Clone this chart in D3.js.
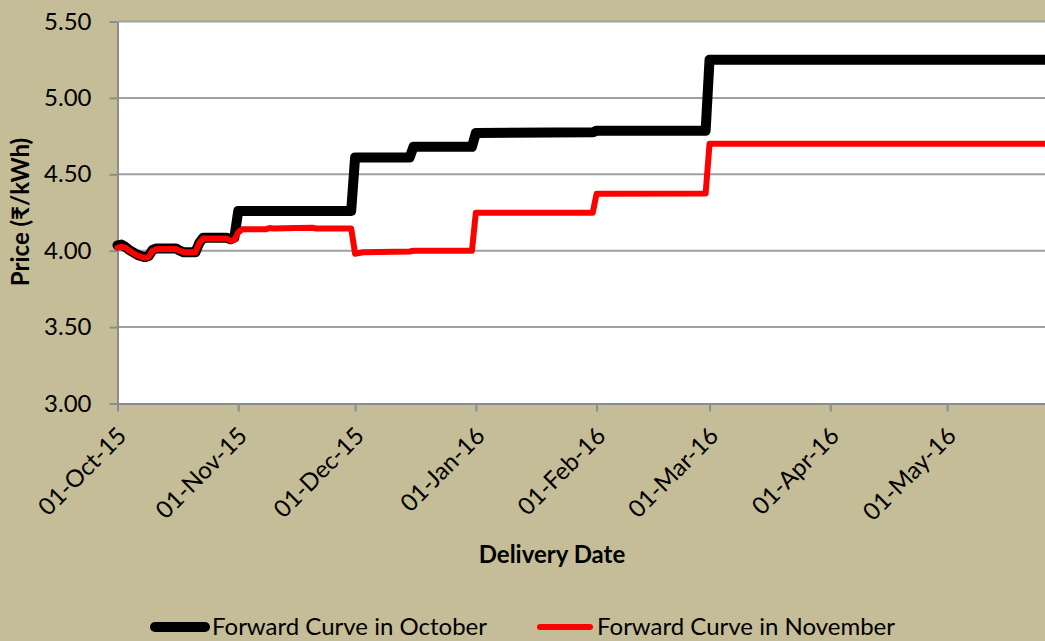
<!DOCTYPE html>
<html>
<head>
<meta charset="utf-8">
<script src="https://cdn.jsdelivr.net/npm/d3@7"></script>
<style>
  html, body { margin: 0; padding: 0; background: #C4BD97; }
  svg { display: block; font-family: Lato, "Open Sans", sans-serif; }
</style>
</head>
<body>
<svg id="chart" width="1045" height="641"></svg>
<script>
// Forward curve in October (black)
const octDates = [
  "2015-10-01", "2015-10-02", "2015-10-03", "2015-10-04", "2015-10-05", "2015-10-06",
  "2015-10-07", "2015-10-08", "2015-10-09", "2015-10-10", "2015-10-11", "2015-10-16",
  "2015-10-17", "2015-10-18", "2015-10-21", "2015-10-22", "2015-10-23", "2015-10-29",
  "2015-10-30", "2015-10-31", "2015-11-01", "2015-11-30", "2015-12-01", "2015-12-15",
  "2015-12-16", "2015-12-31", "2016-01-01", "2016-01-31", "2016-02-01", "2016-02-29",
  "2016-03-01", "2016-05-26"
];
const octValues = [
  4.035, 4.04, 4.025, 4.005, 3.99, 3.975,
  3.965, 3.958, 3.965, 4.005, 4.015, 4.015,
  4.0, 3.99, 3.99, 4.05, 4.085, 4.085,
  4.075, 4.085, 4.26, 4.26, 4.61, 4.61,
  4.68, 4.68, 4.77, 4.775, 4.785, 4.785,
  5.25, 5.25
];

// Forward curve in November (red)
const novDates = [
  "2015-10-01", "2015-10-02", "2015-10-03", "2015-10-04", "2015-10-05", "2015-10-06",
  "2015-10-07", "2015-10-08", "2015-10-09", "2015-10-10", "2015-10-11", "2015-10-16",
  "2015-10-17", "2015-10-18", "2015-10-21", "2015-10-22", "2015-10-23", "2015-10-29",
  "2015-10-30", "2015-10-31", "2015-11-01", "2015-11-02", "2015-11-08", "2015-11-09",
  "2015-11-10", "2015-11-16", "2015-11-20", "2015-11-21", "2015-11-30", "2015-12-01",
  "2015-12-03", "2015-12-15", "2015-12-16", "2015-12-31", "2016-01-01", "2016-01-31",
  "2016-02-01", "2016-02-29", "2016-03-01", "2016-05-26"
];
const novValues = [
  4.02, 4.025, 4.02, 4.0, 3.985, 3.97,
  3.96, 3.953, 3.96, 4.0, 4.01, 4.012,
  4.0, 3.99, 3.99, 4.05, 4.08, 4.08,
  4.065, 4.07, 4.12, 4.14, 4.14, 4.148,
  4.145, 4.148, 4.15, 4.145, 4.145, 3.98,
  3.99, 3.995, 4.0, 4.0, 4.248, 4.248,
  4.372, 4.375, 4.70, 4.70
];

const seriesNames = ["Forward Curve in October", "Forward Curve in November"];
const yTicks = [3.0, 3.5, 4.0, 4.5, 5.0, 5.5];
const xTicks = [
  "2015-10-01", "2015-11-01", "2015-12-01", "2016-01-01",
  "2016-02-01", "2016-03-01", "2016-04-01", "2016-05-01"
];
const xDomain = ["2015-10-01", "2016-05-26"];

const parse = d3.utcParse("%Y-%m-%d");
const fmtDate = d3.utcFormat("%d-%b-%y");

const PLOT = { left: 117.5, right: 1045, top: 21.5, bottom: 403.5 };
const GRID_COLOR = "#a0a0a0";
const AXIS_COLOR = "#8c8c8c";
const FONT_SIZE = 24;

const svg = d3.select("#chart");

const x = d3.scaleUtc()
  .domain(xDomain.map(parse))
  .range([PLOT.left, 1044.5]);

const y = d3.scaleLinear()
  .domain([3.0, 5.5])
  .range([PLOT.bottom, PLOT.top]);

// Plot area
svg.append("rect")
  .attr("x", PLOT.left).attr("y", PLOT.top)
  .attr("width", PLOT.right - PLOT.left)
  .attr("height", PLOT.bottom - PLOT.top)
  .attr("fill", "#fff");

// Grid lines
svg.selectAll(".grid")
  .data(yTicks.filter(d => d > 3.0))
  .enter().append("line")
  .attr("class", "grid")
  .attr("x1", PLOT.left).attr("x2", PLOT.right)
  .attr("y1", d => y(d)).attr("y2", d => y(d))
  .attr("stroke", GRID_COLOR)
  .attr("stroke-width", 2);

// Y axis
const yAxis = svg.append("g")
  .attr("transform", `translate(${PLOT.left},0)`)
  .call(d3.axisLeft(y)
    .tickValues(yTicks)
    .tickSize(8)
    .tickSizeOuter(0)
    .tickPadding(18)
    .tickFormat(d3.format(".2f")));

// X axis
const xAxis = svg.append("g")
  .attr("transform", `translate(0,${PLOT.bottom})`)
  .call(d3.axisBottom(x)
    .tickValues(xTicks.map(parse))
    .tickSize(8)
    .tickSizeOuter(0)
    .tickFormat(fmtDate));

xAxis.selectAll("text")
  .attr("x", 4)
  .attr("y", 28)
  .attr("dy", "0.35em")
  .attr("text-anchor", "end")
  .attr("transform", "rotate(-45, 4, 28)");

[yAxis, xAxis].forEach(g => {
  g.select(".domain").attr("stroke", AXIS_COLOR).attr("stroke-width", 2);
  g.selectAll(".tick line").attr("stroke", AXIS_COLOR).attr("stroke-width", 2);
  g.selectAll("text")
    .attr("fill", "#000")
    .style("font-size", FONT_SIZE + "px")
    .style("font-family", "Lato, 'Open Sans', sans-serif");
});

// Series lines
const line = d3.line()
  .x(d => x(d.date))
  .y(d => y(d.value));

const octData = octDates.map((d, i) => ({ date: parse(d), value: octValues[i] }));
const novData = novDates.map((d, i) => ({ date: parse(d), value: novValues[i] }));

const series = [
  { name: seriesNames[0], data: octData, color: "#000000", width: 10 },
  { name: seriesNames[1], data: novData, color: "#ff0000", width: 6 }
];

series.forEach(s => {
  svg.append("path")
    .datum(s.data)
    .attr("d", line)
    .attr("fill", "none")
    .attr("stroke", s.color)
    .attr("stroke-width", s.width)
    .attr("stroke-linejoin", "round")
    .attr("stroke-linecap", "round");
});

// Axis titles
svg.append("text")
  .attr("x", 552)
  .attr("y", 563)
  .attr("text-anchor", "middle")
  .style("font-size", FONT_SIZE + "px")
  .style("font-weight", "bold")
  .text("Delivery Date");

svg.append("text")
  .attr("transform", "translate(29,212) rotate(-90)")
  .attr("text-anchor", "middle")
  .style("font-size", FONT_SIZE + "px")
  .style("font-weight", "bold")
  .text("Price (₹/kWh)");

// Legend
const legendPos = [
  { x1: 155, x2: 205, tx: 212 },
  { x1: 540, x2: 590, tx: 597 }
];

series.forEach((s, i) => {
  const p = legendPos[i];
  svg.append("line")
    .attr("x1", p.x1).attr("x2", p.x2)
    .attr("y1", 627).attr("y2", 627)
    .attr("stroke", s.color)
    .attr("stroke-width", s.width)
    .attr("stroke-linecap", "round");
  svg.append("text")
    .attr("x", p.tx)
    .attr("y", 635)
    .style("font-size", FONT_SIZE + "px")
    .text(s.name);
});
</script>
</body>
</html>
